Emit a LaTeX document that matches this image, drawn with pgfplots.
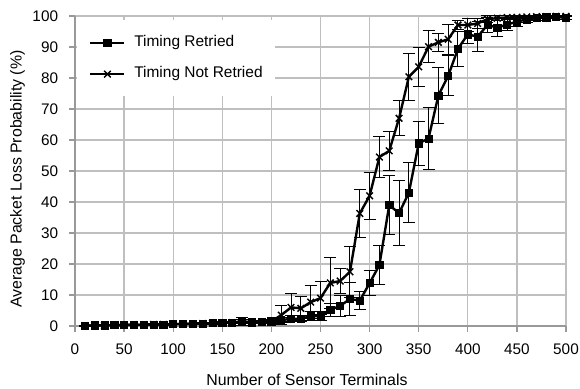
\documentclass[border=0pt]{standalone}
\usepackage{pgfplots}
\usepackage{pgfplotstable}
\pgfplotsset{compat=1.18}
\usepackage{fontspec}
\setmainfont{Liberation Sans}

\pgfplotstableread{
x y e
10 0.1 0.1
20 0.2 0.1
30 0.2 0.1
40 0.3 0.1
50 0.3 0.1
60 0.4 0.1
70 0.4 0.2
80 0.5 0.2
90 0.5 0.2
100 0.6 0.2
110 0.7 0.2
120 0.7 0.2
130 0.8 0.3
140 0.9 0.3
150 1.0 0.3
160 1.1 0.4
170 1.5 1.3
180 1.2 0.4
190 1.3 0.5
200 1.5 0.6
210 1.9 0.8
220 2.3 1.0
230 2.3 1.0
240 3.2 1.5
250 3.2 1.5
260 5.2 2.0
270 6.5 3.5
280 8.7 5.2
290 8.2 2.8
300 13.8 4.1
310 19.7 6.3
320 39.0 9.4
330 36.4 10.5
340 43.0 9.7
350 58.9 7.0
360 60.5 10.0
370 74.3 9.0
380 80.7 6.5
390 89.4 5.6
400 94.1 3.0
410 93.3 4.8
420 97.1 2.5
430 96.3 3.0
440 97.2 2.0
450 98.2 1.5
460 98.9 1.0
470 99.3 0.6
480 99.6 0.4
490 99.8 0.3
500 99.3 0.5
}\dataretried

\pgfplotstableread{
x y e
10 0.1 0.1
20 0.2 0.1
30 0.2 0.1
40 0.3 0.1
50 0.3 0.1
60 0.4 0.1
70 0.4 0.2
80 0.5 0.2
90 0.5 0.2
100 0.6 0.2
110 0.7 0.2
120 0.7 0.2
130 0.8 0.3
140 0.9 0.3
150 1.0 0.3
160 1.1 0.4
170 1.4 0.6
180 1.2 0.4
190 1.3 0.5
200 1.5 0.6
210 3.5 3.0
220 6.0 4.5
230 5.7 3.8
240 7.7 5.4
250 9.0 5.4
260 13.9 8.3
270 14.5 4.1
280 17.5 8.2
290 36.3 7.7
300 42.0 7.6
310 54.5 6.5
320 56.5 6.4
330 67.0 5.6
340 80.4 7.6
350 83.6 6.3
360 90.1 5.2
370 91.5 3.0
380 92.5 4.8
390 97.1 1.5
400 97.1 2.0
410 97.6 1.5
420 99.0 1.0
430 99.3 0.8
440 99.5 0.5
450 99.6 0.5
460 99.7 0.3
470 99.8 0.3
480 99.8 0.2
490 99.9 0.2
500 99.9 0.1
}\datanotretried

\begin{document}
\begin{tikzpicture}
\useasboundingbox (-56.25bp,-47.25bp) rectangle (378.75bp,244.5bp);
\begin{axis}[
  at={(0,0)}, anchor=south west,
  scale only axis, width=368.25bp, height=232.5bp,
  xmin=0, xmax=500, ymin=0, ymax=100,
  xtick={0,50,...,500}, ytick={0,10,...,100},
  clip=false,
  grid=major,
  major grid style={color=black!25, line width=0.9bp},
  axis lines=left,
  axis line style={-, color=black!40, line width=1.1bp},
  tick align=outside, major tick length=4.5bp,
  tick style={color=black!40, line width=0.9bp},
  /pgf/number format/assume math mode=true,
  tick label style={font=\fontsize{11.5bp}{13.5bp}\selectfont},
  xticklabel style={anchor=center, yshift=-13bp},
  yticklabel style={anchor=east, inner sep=0pt, xshift=-8bp},
  label style={font=\fontsize{11.9bp}{14bp}\selectfont},
  xlabel={Number of Sensor Terminals},
  ylabel={Average Packet Loss Probability (\%)},
  xlabel style={at={(axis description cs:0.4725,-0.174)}, anchor=center},
  ylabel style={at={(axis description cs:-0.117,0.474)}, anchor=center},
  reverse legend,
  legend image code/.code={\draw[mark repeat=2,mark phase=2] plot coordinates {(0bp,0bp) (12.75bp,0bp) (25.5bp,0bp)};},
  legend style={at={(axis description cs:0.004,0.9865)}, anchor=north west,
    draw=none, fill=white, inner xsep=9bp, inner ysep=11bp,
    row sep=12bp, column sep=6.5bp,
    nodes={inner sep=0pt, text height=8.5bp, text depth=3bp},
    font=\fontsize{11.6bp}{14bp}\selectfont},
  legend cell align=left,
]
\addplot[black, line width=1.8bp, mark=x, mark size=3.5bp,
  mark options={solid, line width=1.1bp},
  error bars/.cd, y dir=both, y explicit,
  error bar style={line width=0.75bp, black},
  error mark options={rotate=90, mark size=4.5bp, line width=0.75bp, black}]
  table[x=x, y=y, y error=e] {\datanotretried};
\addlegendentry{Timing Not Retried}
\addplot[black, line width=1.8bp, mark=square*, mark size=2.7bp,
  mark options={solid, line width=0.5bp},
  error bars/.cd, y dir=both, y explicit,
  error bar style={line width=0.75bp, black},
  error mark options={rotate=90, mark size=4.5bp, line width=0.75bp, black}]
  table[x=x, y=y, y error=e] {\dataretried};
\addlegendentry{Timing Retried}
\end{axis}
\end{tikzpicture}
\end{document}
